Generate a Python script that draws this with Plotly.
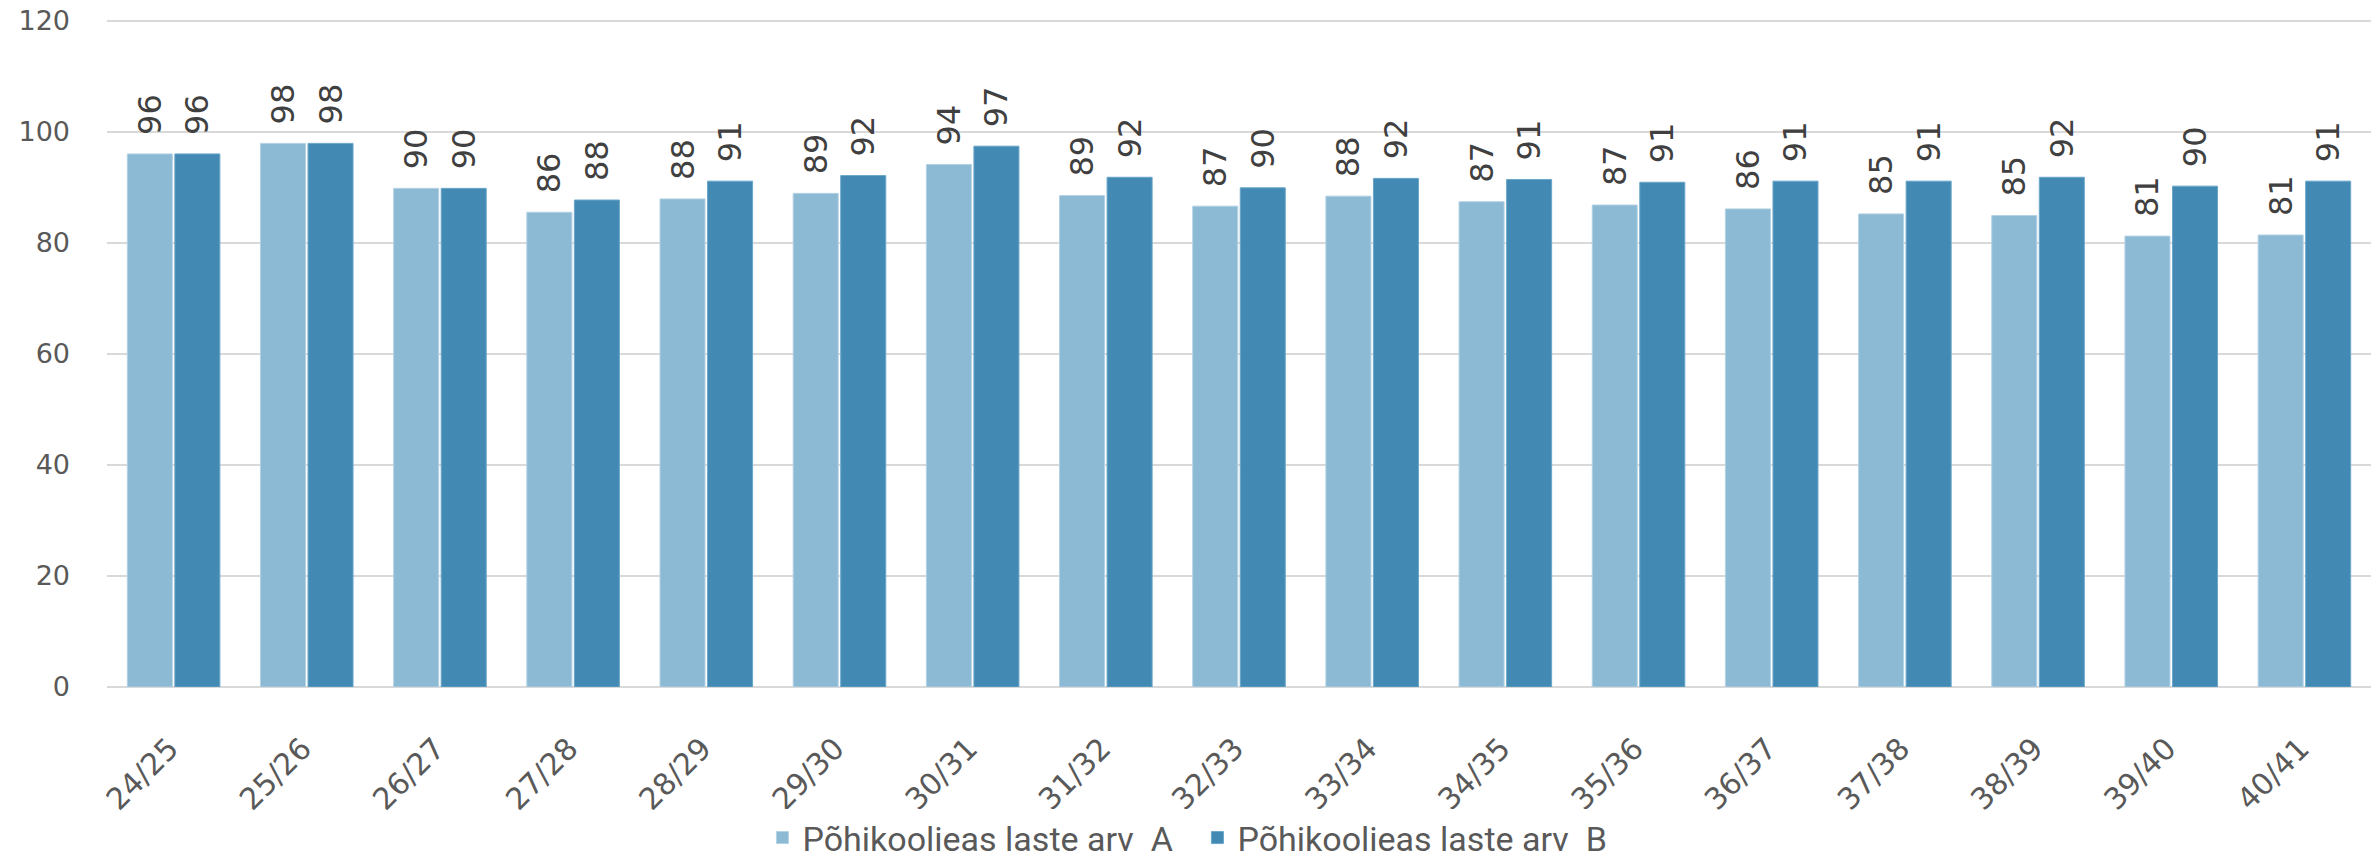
import plotly.graph_objects as go

categories = ["24/25", "25/26", "26/27", "27/28", "28/29", "29/30", "30/31", "31/32", "32/33",
              "33/34", "34/35", "35/36", "36/37", "37/38", "38/39", "39/40", "40/41"]
series_a = [96.0, 97.9, 89.8, 85.5, 87.9, 88.9, 94.1, 88.5, 86.6, 88.4, 87.4, 86.8, 86.1, 85.2, 84.9, 81.2, 81.4]
series_b = [96.0, 97.9, 89.8, 87.7, 91.1, 92.1, 97.4, 91.8, 89.9, 91.6, 91.4, 90.9, 91.1, 91.1, 91.8, 90.2, 91.1]
name_a = "Põhikoolieas laste arv  A"
name_b = "Põhikoolieas laste arv  B"
y_ticks = [0, 20, 40, 60, 80, 100, 120]

color_a = "#8CB9D4"
color_b = "#428AB3"
label_font = dict(family="DejaVu Sans", size=32, color="#404040")

fig = go.Figure()
for name, vals, col, edge in [(name_a, series_a, color_a, "#b3d2e4"), (name_b, series_b, color_b, "#6aa6c9")]:
    fig.add_trace(go.Bar(
        x=categories, y=vals, name=name,
        marker=dict(color=col, line=dict(color=edge, width=1)),
        texttemplate="\u2002%{y:.0f}", textposition="outside", textangle=-90,
        constraintext="none",
        textfont=label_font, cliponaxis=False,
    ))

fig.update_layout(
    width=2376, height=868,
    margin=dict(l=107, r=5, t=19, b=181, autoexpand=False),
    paper_bgcolor="white", plot_bgcolor="white",
    barmode="group", bargap=0.286, bargroupgap=0.053,
    showlegend=True,
    legend=dict(orientation="h", x=0.2895, xanchor="left", y=-0.226, yanchor="middle",
                font=dict(family="Roboto", size=34, color="#595959"),
                itemwidth=30, entrywidth=390, entrywidthmode="pixels", traceorder="normal"),
    font=dict(family="Open Sans", color="#595959"),
)
fig.update_yaxes(range=[0, 120.3], tickvals=y_ticks, showgrid=True, gridcolor="#d9d9d9", gridwidth=2,
                 zeroline=True, zerolinecolor="#d9d9d9", zerolinewidth=2, automargin=False,
                 tickfont=dict(family="DejaVu Sans", size=27, color="#595959"),
                 ticks="", ticklabelstandoff=36, showline=False, ticklabeloverflow="allow")
fig.update_xaxes(tickangle=-45, tickfont=dict(family="DejaVu Sans", size=30, color="#595959"),
                 ticks="", showline=False, showgrid=False, ticklabelstandoff=37, ticklabelshift=-4,
                 automargin=False)

# remove the browser's default 8px body margin so the figure fills the window exactly
fig.write_html("out.html", config={"displayModeBar": False},
               post_script="document.body.style.margin='0';")
